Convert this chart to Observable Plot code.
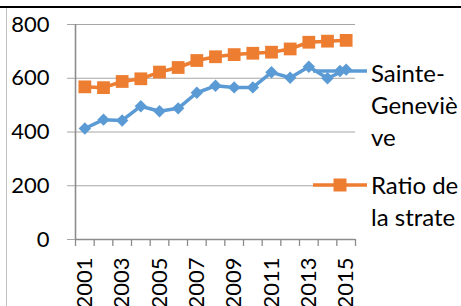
<!DOCTYPE html>
<html>
<head>
<meta charset="utf-8">
<script src="https://cdn.jsdelivr.net/npm/d3@7"></script>
<script src="https://cdn.jsdelivr.net/npm/@observablehq/plot@0.6"></script>
<style>
  html, body { margin: 0; padding: 0; background: #fff; }
  #wrap { position: relative; width: 461px; height: 306px; overflow: hidden; background: #fff; font-family: Lato, "Open Sans", sans-serif; }
  #chart { position: absolute; left: 0; top: 0; }
  .frameTop { position: absolute; left: 0; top: 6px; width: 461px; height: 2px; background: #000; }
  .frameLeft { position: absolute; left: 6px; top: 8px; width: 1px; height: 298px; background: #bfbfbf; }
  .key { position: absolute; }
  .ltext { position: absolute; left: 371px; font-size: 24px; line-height: 32px; color: #000; white-space: nowrap; }
</style>
</head>
<body>
<div id="wrap">
  <div id="chart"></div>
  <div class="frameTop"></div>
  <div class="frameLeft"></div>
  <div id="legend"></div>
</div>
<script>
// ---- data ----
const years = [2001, 2002, 2003, 2004, 2005, 2006, 2007, 2008, 2009, 2010, 2011, 2012, 2013, 2014, 2015];
const sainteGenevieve = [413, 446, 443, 496, 477, 488, 546, 572, 566, 566, 622, 602, 643, 600, 632];
const ratioStrate = [568, 565, 588, 598, 623, 640, 666, 680, 688, 693, 697, 709, 734, 738, 741];
const yTicks = [0, 200, 400, 600, 800];
const xTickLabels = [2001, 2003, 2005, 2007, 2009, 2011, 2013, 2015];
const seriesNames = ["Sainte-Genevi\u00e8ve", "Ratio de la strate"];
const colors = ["#5B9BD5", "#ED7D31"];

const sgData = years.map((y, i) => ({year: y, value: sainteGenevieve[i]}));
const rsData = years.map((y, i) => ({year: y, value: ratioStrate[i]}));
const boundaries = years.map(y => y - 0.5).concat([years[years.length - 1] + 0.5]);

const axisColor = "#8c8c8c";
const gridColor = "#a6a6a6";

const chart = Plot.plot({
  width: 461,
  height: 306,
  marginLeft: 75,
  marginRight: 106,
  marginTop: 24,
  marginBottom: 67,
  style: {fontFamily: "Lato, 'Open Sans', sans-serif", fontSize: "22px", background: "transparent", color: "#000", overflow: "visible"},
  x: {type: "linear", domain: [boundaries[0], boundaries[boundaries.length - 1]]},
  y: {domain: [0, 800]},
  marks: [
    Plot.gridY(yTicks, {stroke: gridColor, strokeOpacity: 1, strokeWidth: 1}),
    Plot.axisY({ticks: yTicks, tickSize: 8, tickPadding: 18, stroke: gridColor, strokeOpacity: 1, fill: "#000", fontSize: 22, label: null}),
    Plot.axisX({ticks: boundaries, tickSize: 7, tickFormat: () => "", stroke: axisColor, strokeOpacity: 1, strokeWidth: 1.3, label: null}),
    Plot.ruleX([boundaries[0]], {stroke: axisColor, strokeWidth: 1.6}),
    Plot.ruleY([0], {stroke: axisColor, strokeWidth: 1.6}),
    Plot.text(xTickLabels, {x: d => d, text: d => String(d), frameAnchor: "bottom", dy: 18, rotate: -90, textAnchor: "end", lineAnchor: "middle", fontSize: 22, fill: "#000"}),
    Plot.line(rsData, {x: "year", y: "value", stroke: colors[1], strokeWidth: 3.5}),
    Plot.dot(rsData, {x: "year", y: "value", symbol: "square", r: 7.2, fill: colors[1], stroke: "none"}),
    Plot.line(sgData, {x: "year", y: "value", stroke: colors[0], strokeWidth: 3.5}),
    Plot.dot(sgData, {x: "year", y: "value", symbol: "diamond2", r: 5.6, fill: colors[0], stroke: "none"})
  ]
});
document.getElementById("chart").appendChild(chart);

// ---- legend (overlay, Excel-style keys) ----
const legend = document.getElementById("legend");
const legendItems = [
  {name: seriesNames[0], lines: ["Sainte-", "Genevi\u00e8", "ve"], color: colors[0], shape: "diamond", keyY: 71, textTop: 57},
  {name: seriesNames[1], lines: ["Ratio de", "la strate"], color: colors[1], shape: "square", keyY: 185, textTop: 169}
];
legendItems.forEach(it => {
  const svgNS = "http://www.w3.org/2000/svg";
  const svg = document.createElementNS(svgNS, "svg");
  svg.setAttribute("width", 56);
  svg.setAttribute("height", 16);
  svg.setAttribute("class", "key");
  svg.style.left = "312px";
  svg.style.top = (it.keyY - 8) + "px";
  const ln = document.createElementNS(svgNS, "line");
  ln.setAttribute("x1", 1); ln.setAttribute("x2", 55);
  ln.setAttribute("y1", 8); ln.setAttribute("y2", 8);
  ln.setAttribute("stroke", it.color); ln.setAttribute("stroke-width", 3.5);
  svg.appendChild(ln);
  const m = document.createElementNS(svgNS, "path");
  if (it.shape === "diamond") m.setAttribute("d", "M28,1.8L34.2,8L28,14.2L21.8,8Z");
  else m.setAttribute("d", "M21.5,1.5H34.5V14.5H21.5Z");
  m.setAttribute("fill", it.color);
  svg.appendChild(m);
  legend.appendChild(svg);
  const t = document.createElement("div");
  t.className = "ltext";
  t.style.top = it.textTop + "px";
  t.innerHTML = it.lines.join("<br>");
  legend.appendChild(t);
});
</script>
</body>
</html>
